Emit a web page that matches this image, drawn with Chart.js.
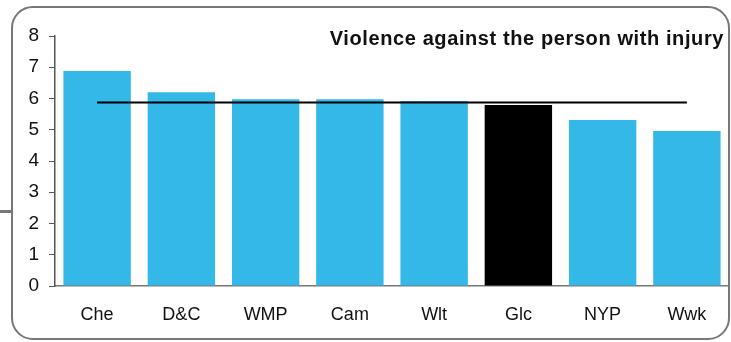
<!DOCTYPE html>
<html>
<head>
<meta charset="utf-8">
<script src="https://cdn.jsdelivr.net/npm/chart.js@4"></script>
<style>
  html, body { margin: 0; padding: 0; background: #fff; }
  #wrap { position: relative; width: 731px; height: 342px; overflow: hidden; }
  #frame {
    position: absolute; left: 11px; top: 6px; width: 715px; height: 330px;
    border: 2.5px solid #777; border-radius: 22px; box-sizing: content-box;
  }
  #stub { position: absolute; left: 0; top: 210px; width: 12px; height: 3px; background: #777; }
  canvas { position: absolute; left: 0; top: 0; }
</style>
</head>
<body>
<div id="wrap">
  <div id="frame"></div>
  <div id="stub"></div>
  <canvas id="crimeChart" width="731" height="342"></canvas>
</div>
<script>
// forces, rate per 1000
const forces = ["Che", "D&C", "WMP", "Cam", "Wlt", "Glc", "NYP", "Wwk"];
const rates = [6.88, 6.2, 5.98, 5.98, 5.92, 5.79, 5.31, 4.96];
const barColours = ["#33b8e8", "#33b8e8", "#33b8e8", "#33b8e8", "#33b8e8", "#000000", "#33b8e8", "#33b8e8"];
const groupAverage = [5.87, 5.87, 5.87, 5.87, 5.87, 5.87, 5.87, 5.87];
const yTicks = [0, 1, 2, 3, 4, 5, 6, 7, 8];
const chartTitle = "Violence against the person with injury";

const titleText = {
   id: "titleText",
   afterDraw(chart) {
      const ctx = chart.ctx;
      ctx.save();
      ctx.font = "bold 20px Arial, 'Liberation Sans', sans-serif";
      ctx.letterSpacing = "0.6px";
      ctx.fillStyle = "#111";
      ctx.textAlign = "right";
      ctx.textBaseline = "alphabetic";
      ctx.fillText(chartTitle, 724, 45);
      ctx.restore();
   },
};

const crimechart = document.getElementById("crimeChart").getContext("2d");
const crimeChart = new Chart(crimechart, {
   type: "bar",
   data: {
      labels: forces,
      datasets: [
         {
            type: "line",
            label: "Average",
            data: groupAverage,
            borderColor: "#000",
            borderWidth: 2,
            pointRadius: 0,
            fill: false,
            order: 0,
         },
         {
            label: "Rate",
            data: rates,
            backgroundColor: barColours,
            barPercentage: 0.8,
            categoryPercentage: 1,
            order: 1,
         },
      ],
   },
   options: {
      responsive: false,
      animation: false,
      layout: { padding: { left: 0, right: 2, top: 36, bottom: 0 } },
      plugins: { legend: { display: false }, tooltip: { enabled: false } },
      scales: {
         x: {
            grid: { display: false, drawTicks: false },
            border: { color: "#777", width: 1.5 },
            ticks: {
               color: "#111",
               padding: 18,
               font: { family: "Arial, 'Liberation Sans', sans-serif", size: 18 },
            },
            afterFit(scale) { scale.height = 56; },
         },
         y: {
            min: 0,
            max: 8,
            afterBuildTicks(scale) { scale.ticks = yTicks.map(v => ({ value: v })); },
            grid: { drawOnChartArea: false, tickLength: 6, color: "#555" },
            border: { color: "#555", width: 1.5 },
            ticks: {
               color: "#111",
               padding: 10,
               font: { family: "Arial, 'Liberation Sans', sans-serif", size: 19 },
            },
            afterFit(scale) { scale.width = 55; },
         },
      },
   },
   plugins: [titleText],
});
</script>
</body>
</html>
